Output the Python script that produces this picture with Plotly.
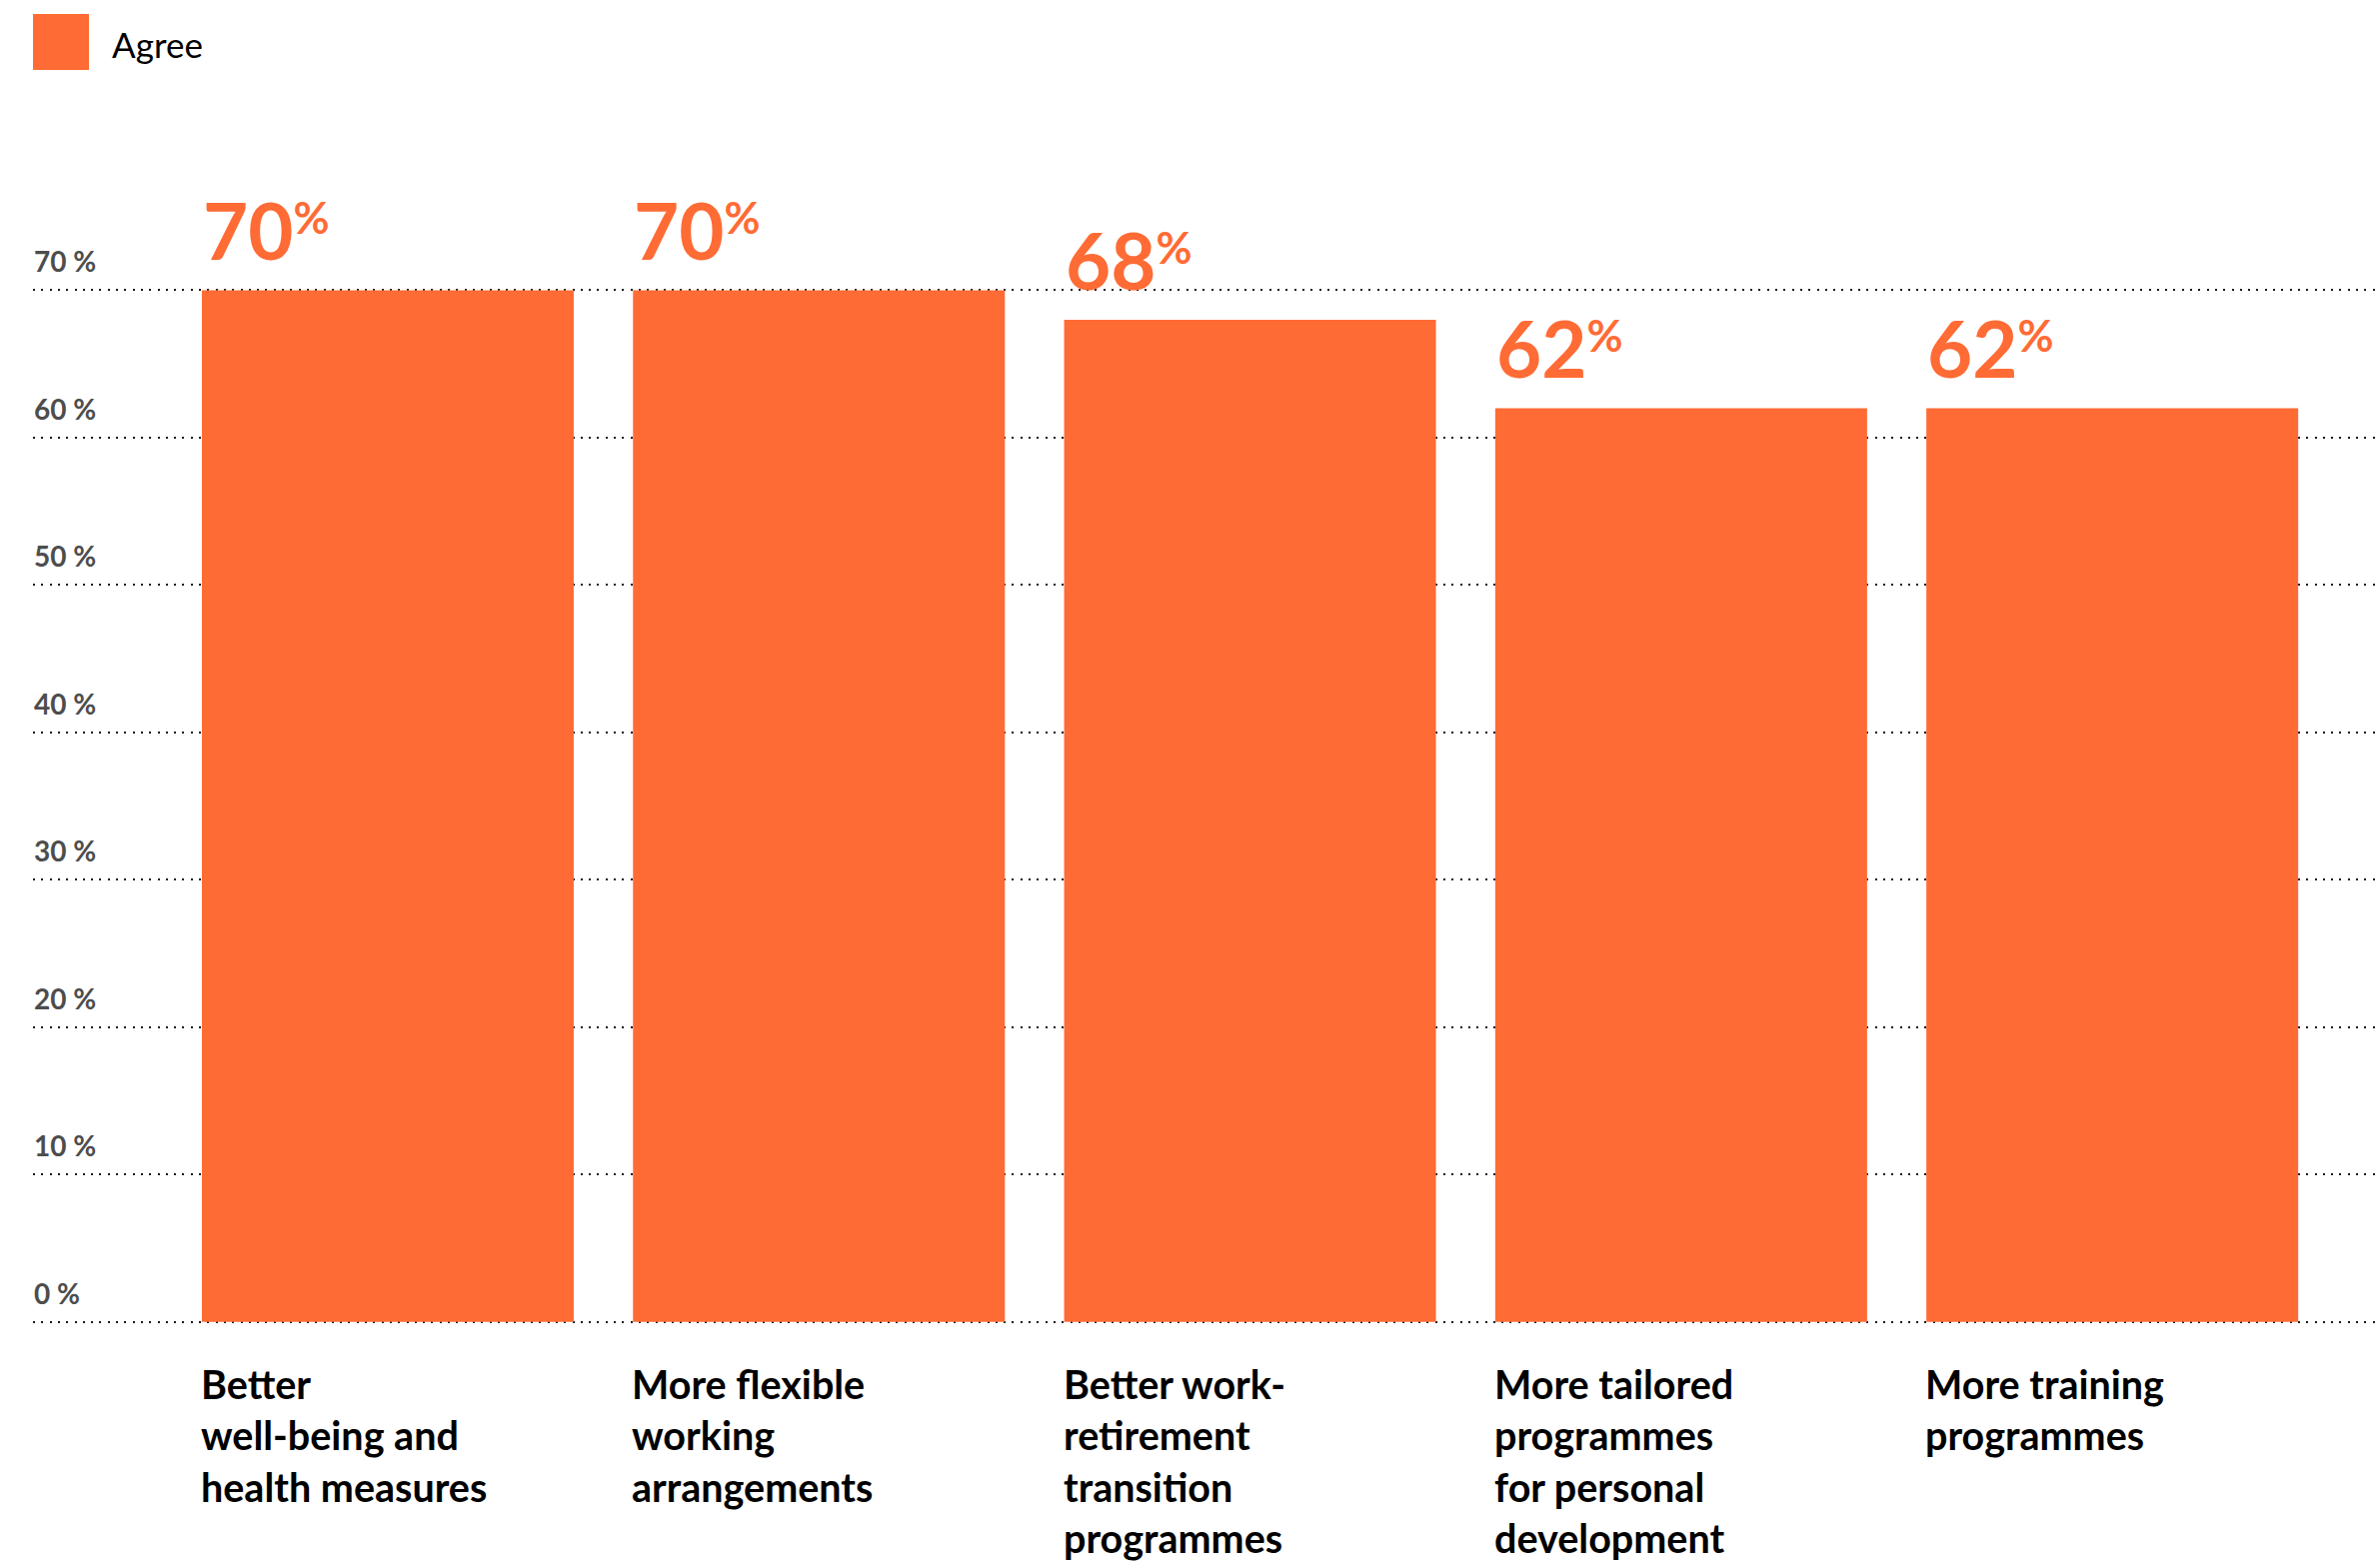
import plotly.graph_objects as go

# Survey results: share of respondents who agree with each measure
categories = [
    "Better<br>well-being and<br>health measures",
    "More flexible<br>working<br>arrangements",
    "Better work-<br>retirement<br>transition<br>programmes",
    "More tailored<br>programmes<br>for personal<br>development",
    "More training<br>programmes",
]
agree = [70, 70, 68, 62, 62]
series_name = "Agree"
tick_values = [0, 10, 20, 30, 40, 50, 60, 70]
tick_labels = ["0 %", "10 %", "20 %", "30 %", "40 %", "50 %", "60 %", "70 %"]

ORANGE = "#FF6B35"
TICK_GREY = "#4D4D4D"
FONT = "Lato"

# Canvas and plot-area geometry (pixels)
W, H = 2381, 1562
ZERO_PX = 1323          # pixel row of the 0 % line
PX_PER_UNIT = 14.75     # pixels per percentage point
Y_MIN, Y_MAX = -0.15, 80
X_MIN, X_MAX = -0.823, 4.621
M_L, M_R = 33, 0
M_T = ZERO_PX - Y_MAX * PX_PER_UNIT
M_B = H - ZERO_PX - (-Y_MIN) * PX_PER_UNIT
PLOT_W = W - M_L - M_R
PLOT_H = H - M_T - M_B

BARGAP = 0.1375
HALF = (1 - BARGAP) / 2


def paper_x(px):
    return (px - M_L) / PLOT_W


def paper_y(py):
    return (H - M_B - py) / PLOT_H


fig = go.Figure(
    go.Bar(
        x=categories,
        y=agree,
        name=series_name,
        marker=dict(color=ORANGE, line=dict(width=0)),
        showlegend=False,
        hoverinfo="skip",
    )
)

annotations = []

# value labels above each bar, left-aligned with the bar edge;
# the smaller base size keeps the raised "%" close to the digit tops
for i, v in enumerate(agree):
    annotations.append(dict(
        x=i - HALF, y=v, xref="x", yref="y",
        xanchor="left", yanchor="bottom", yshift=12, borderpad=0,
        text=(f"<span style='font-size:78px'>{v}</span>"
              "<sup><span style='font-size:44px'>%</span></sup>"),
        showarrow=False,
        font=dict(family=FONT, size=62, color=ORANGE, weight="bold"),
    ))

# category labels under each bar
for i, c in enumerate(categories):
    annotations.append(dict(
        x=i - HALF, y=0, xref="x", yref="y",
        xanchor="left", yanchor="top", yshift=-37, xshift=-2,
        borderpad=0, align="left",
        text=c, showarrow=False,
        font=dict(family=FONT, size=39.5, color="#000000", weight="bold"),
    ))

# y tick labels sitting above their grid lines
for v, t in zip(tick_values, tick_labels):
    annotations.append(dict(
        x=0, y=v, xref="paper", yref="y",
        xanchor="left", yanchor="bottom", yshift=11, borderpad=0,
        text=t, showarrow=False,
        font=dict(family=FONT, size=28, color=TICK_GREY, weight="bold"),
    ))

# legend entry
annotations.append(dict(
    x=paper_x(110), y=paper_y(43.5), xref="paper", yref="paper",
    xanchor="left", yanchor="middle",
    text=series_name, showarrow=False,
    font=dict(family=FONT, size=35, color="#000000"),
))

fig.add_shape(
    type="rect", xref="paper", yref="paper",
    x0=paper_x(33), x1=paper_x(89), y0=paper_y(70), y1=paper_y(14),
    fillcolor=ORANGE, line=dict(width=0),
)

fig.update_layout(
    width=W, height=H,
    margin=dict(l=M_L, r=M_R, t=M_T, b=M_B, pad=0),
    paper_bgcolor="white", plot_bgcolor="white",
    bargap=BARGAP,
    showlegend=False,
    annotations=annotations,
    font=dict(family=FONT),
    xaxis=dict(
        range=[X_MIN, X_MAX], showticklabels=False, showgrid=False,
        zeroline=False, showline=False, ticks="", fixedrange=True,
    ),
    yaxis=dict(
        range=[Y_MIN, Y_MAX], tickvals=tick_values, showticklabels=False,
        showgrid=True, gridcolor="#1A1A1A", gridwidth=2, griddash="2px,6.3px",
        zeroline=False, showline=False, ticks="", fixedrange=True,
    ),
)

fig.write_html("out.html", config={"displayModeBar": False, "staticPlot": True})
